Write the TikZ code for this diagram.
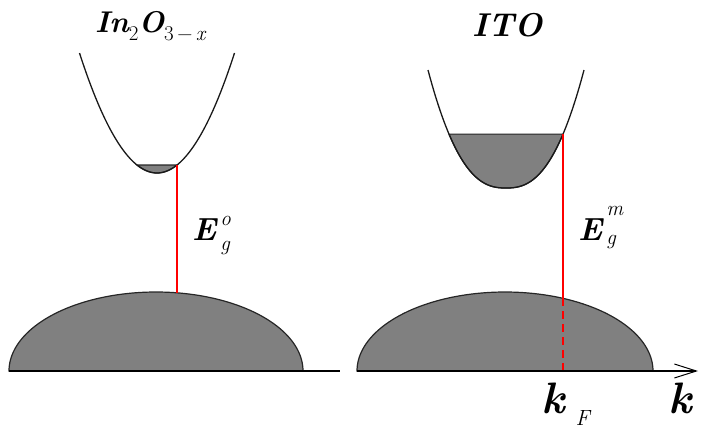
\documentclass[tikz,border=0pt]{standalone}
\usetikzlibrary{arrows.meta}
\begin{document}
\begin{tikzpicture}[x=1pt,y=-1pt,
  curve/.style={line width=1.3pt, black!90},
  band/.style={fill=gray, draw=black!85, line width=1.2pt},
  gapline/.style={red, line width=1.5pt},
  axisline/.style={line width=1.3pt, black},
  lbl/.style={inner sep=0pt, anchor=base west},
]
\useasboundingbox (0,0) rectangle (703,428);
% ---------- left: In2O3-x ----------
\filldraw[band] plot[domain=-20:20,samples=30] ({157+\x},{173-120*(\x/77.5)^2}) -- cycle;
\draw[curve] plot[domain=-77.5:77.5,samples=80] ({157+\x},{173-120*(\x/77.5)^2});
\filldraw[band] plot[domain=180:0,samples=90] ({156+147*cos(\x)},{371-79*sin(\x)}) -- cycle;
\coordinate (cbL) at (177,165);
\coordinate (vbL) at (177,292.8);
\draw[gapline] (cbL) -- (vbL);
\coordinate (axL0) at (9,371);
\coordinate (axL1) at (340,371);
\draw[axisline] (axL0) -- (axL1);
% ---------- right: ITO ----------
\filldraw[band] plot[domain=-57:57,samples=40] ({506+\x},{188-118*(\x/78)^2*sqrt(abs(\x)/78)}) -- cycle;
\draw[curve] plot[domain=-78:78,samples=80] ({506+\x},{188-118*(\x/78)^2*sqrt(abs(\x)/78)});
\filldraw[band] plot[domain=180:0,samples=90] ({505+148*cos(\x)},{371-79*sin(\x)}) -- cycle;
\coordinate (cbR) at (563,134);
\coordinate (vbR) at (563,298.3);
\coordinate (kF) at (563,371);
\draw[gapline] (cbR) -- (vbR);
\draw[gapline, dash pattern=on 8pt off 5pt] (vbR) -- (kF);
\coordinate (axR0) at (357,371);
\coordinate (axR1) at (698,371);
\draw[axisline, -{Straight Barb[length=22pt,width=14pt,line width=1pt]}] (axR0) -- (axR1);
% ---------- labels ----------
\node[lbl] (tL) at (95,33) {{\fontsize{30}{30}\selectfont\bfseries\itshape In}\raisebox{-8pt}{\fontsize{21}{21}\selectfont 2}{\fontsize{30}{30}\selectfont\bfseries\itshape O}\raisebox{-8pt}{\fontsize{21}{21}\selectfont 3\,\textminus\,\itshape x}};
\node[lbl] (tR) at (472,37) {\fontsize{33}{33}\selectfont\bfseries\itshape ITO};
\node[lbl] (EgO) at (192,240) {{\fontsize{32}{32}\selectfont\bfseries\itshape E}\hspace{4pt}\rlap{\raisebox{15pt}{\fontsize{21}{21}\selectfont\itshape o}}\raisebox{-10pt}{\fontsize{21}{21}\selectfont\itshape g}};
\node[lbl] (EgM) at (578,240) {{\fontsize{32}{32}\selectfont\bfseries\itshape E}\hspace{4pt}\rlap{\raisebox{25pt}{\fontsize{21}{21}\selectfont\itshape m}}\raisebox{-4pt}{\fontsize{21}{21}\selectfont\itshape g}};
\node[lbl] (kFl) at (541,413) {{\fontsize{44}{44}\selectfont\bfseries\itshape k}\hspace{11pt}\raisebox{-12pt}{\fontsize{22}{22}\selectfont\itshape F}};
\node[lbl] (kl) at (668,413) {\fontsize{44}{44}\selectfont\bfseries\itshape k};
\end{tikzpicture}
\end{document}
